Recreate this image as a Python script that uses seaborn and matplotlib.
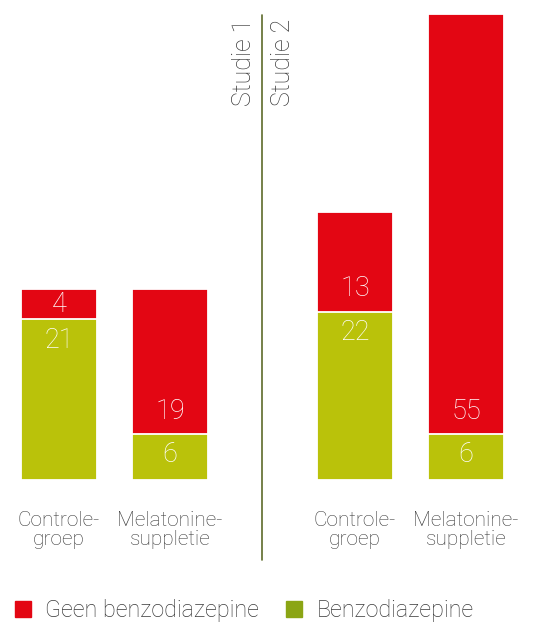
import matplotlib
matplotlib.use("Agg")
import matplotlib.pyplot as plt
from matplotlib.lines import Line2D
from matplotlib.patches import Patch
import pandas as pd
import seaborn as sns

# Data: number of patients per group, split by benzodiazepine use
studies = ["Studie 1", "Studie 2"]
groups = ["Controle-\ngroep", "Melatonine-\nsuppletie"]
geen_benzo = {"Studie 1": [4, 19], "Studie 2": [13, 55]}
benzo = {"Studie 1": [21, 6], "Studie 2": [22, 6]}
legend_labels = ["Geen benzodiazepine", "Benzodiazepine"]

RED = "#E30613"
GREEN = "#BAC20A"
GREEN_LEGEND = "#8BA514"
TEXT = "#3a3a3a"
LINE = "#5d6b2b"

sns.set_theme(style="white")
plt.rcParams["font.family"] = ["Roboto", "DejaVu Sans"]

W, H = 534, 624
fig = plt.figure(figsize=(W / 100, H / 100), dpi=100)

bottom_px = 480
ymax = 62.8
width = 0.685
# axes extents in pixels and the x-limits that place the bar centres
panels = {
    "Studie 1": dict(left=0, right=262, xlim=(-0.532, 1.829)),
    "Studie 2": dict(left=262, right=534, xlim=(-0.838, 1.613)),
}

for study in studies:
    p = panels[study]
    ax = fig.add_axes([p["left"] / W, (H - bottom_px) / H,
                       (p["right"] - p["left"]) / W, bottom_px / H])
    red = geen_benzo[study]
    green = benzo[study]
    df = pd.DataFrame({
        "groep": groups,
        "totaal": [r + g for r, g in zip(red, green)],
        "benzo": green,
    })
    sns.barplot(data=df, x="groep", y="totaal", color=RED, saturation=1,
                width=width, edgecolor="white", linewidth=1.3,
                errorbar=None, ax=ax)
    sns.barplot(data=df, x="groep", y="benzo", color=GREEN, saturation=1,
                width=width, edgecolor="white", linewidth=1.3,
                errorbar=None, ax=ax)
    for i, (r, g) in enumerate(zip(red, green)):
        ax.text(i, g + min(r / 2, 3.0), str(r), ha="center", va="center",
                color="white", fontsize=19.5, fontweight="light")
        ax.text(i, g - min(g / 2, 2.7), str(g), ha="center", va="center",
                color="white", fontsize=19.5, fontweight="light")
    ax.set_xlim(*p["xlim"])
    ax.set_ylim(0, ymax)
    ax.set_xlabel("")
    ax.set_ylabel("")
    ax.set_yticks([])
    for s in ax.spines.values():
        s.set_visible(False)
    ax.tick_params(axis="x", length=0, pad=22, labelsize=15,
                   labelcolor=TEXT)
    for lbl in ax.get_xticklabels():
        lbl.set_fontweight("light")
        lbl.set_linespacing(1.0)
    ax.patch.set_alpha(0)

# divider between the two studies
fig.add_artist(Line2D([262 / W, 262 / W], [(H - 15) / H, (H - 560) / H],
                      color=LINE, lw=1.2))
fig.text(244 / W, (H - 19) / H, "Studie 1", rotation=90, ha="center",
         va="top", fontsize=18, color=TEXT, fontweight="light")
fig.text(283 / W, (H - 19) / H, "Studie 2", rotation=90, ha="center",
         va="top", fontsize=18, color=TEXT, fontweight="light")

handles = [Patch(color=RED), Patch(color=GREEN_LEGEND)]
leg = fig.legend(handles, legend_labels, loc="center left",
                 bbox_to_anchor=(15 / W, (H - 611) / H), ncol=2,
                 frameon=False, fontsize=16.8, handlelength=0.68,
                 handleheight=0.68, handletextpad=0.62, columnspacing=1.15,
                 borderaxespad=0, borderpad=0)
for t in leg.get_texts():
    t.set_color(TEXT)
    t.set_fontweight("light")

fig.savefig("out.png", dpi=100)
